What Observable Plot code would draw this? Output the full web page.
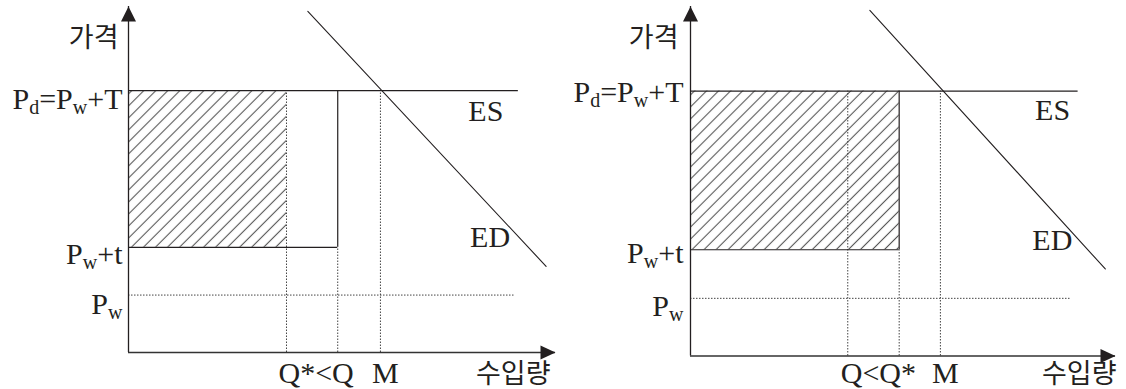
<!DOCTYPE html>
<html>
<head>
<meta charset="utf-8">
<script src="https://cdn.jsdelivr.net/npm/d3@7"></script>
<script src="https://cdn.jsdelivr.net/npm/@observablehq/plot@0.6"></script>
<style>
  body { margin: 0; background: #fff; }
  #wrap { display: flex; width: 1126px; height: 389px; background: #fff; }
  #wrap svg { flex: none; max-width: none; }
</style>
</head>
<body>
<svg width="0" height="0" style="position:absolute">
  <defs>
    <pattern id="hatch" patternUnits="userSpaceOnUse" width="8.5" height="8.5" patternTransform="rotate(45)">
      <line x1="4.25" y1="0" x2="4.25" y2="8.5" stroke="#555" stroke-width="1.1"/>
    </pattern>
  </defs>
</svg>
<div id="wrap"></div>
<script>
// ---------- data (chart units: both axes 0..100) ----------
const axisTitles = ["가격", "수입량"];
const priceLabels = ["P_d=P_w+T", "P_w+t", "P_w"];
const curveLabels = ["ES", "ED"];
const quantityLabels = [["Q*<Q", "M"], ["Q<Q*", "M"]];

const quotaQ   = [49.0, 37.0];   // Q (quota) in each panel
const optimalQ = [37.0, 49.1];   // Q* in each panel
const importM  = [59.0, 58.8];   // M
const priceD   = [75.7, 75.8];   // Pd = Pw + T
const priceWt  = [30.4, 30.4];   // Pw + t
const priceW   = [16.6, 16.5];   // Pw
const esEnd    = [91.3, 91.2];   // ES line right end
const pwEnd    = [90.4, 89.6];   // Pw dotted line right end
const edX = [[42.0, 97.8], [42.2, 97.6]];
const edY = [[98.6, 24.9], [98.9, 24.9]];
const axisMax = 100;

// ---------- layout / style ----------
const W = 563, H = 389;
const INK = "#231f20";
const layouts = [
  {marginLeft: 128, marginRight: 8, marginTop: 6, marginBottom: 37,
   priceDy: [18, 17, 19], priceDx: -6, qDx: -8, qDy: 30, mDx: 5, impDx: -5, impDy: 30,
   esDx: -15, esDy: 30, edDx: -36, edDy: -19, titleDx: -10, titleDy: 40},
  {marginLeft: 127, marginRight: 11, marginTop: 6, marginBottom: 33.5,
   priceDy: [11, 13, 18], priceDx: -7, qDx: -7, qDy: 27, mDx: 5, impDx: 1, impDy: 27,
   esDx: -8, esDy: 29, edDx: -33, edDy: -19, titleDx: -12, titleDy: 40}
];

const serif = {fontFamily: "'Liberation Serif', 'Times New Roman', serif", fontSize: 30, fill: INK, lineAnchor: "bottom"};
const hangul = {fontFamily: "'Noto Sans CJK KR', sans-serif", fontSize: 27, fontWeight: 400, fill: INK, lineAnchor: "bottom"};
const dotted = {stroke: "#444", strokeWidth: 1, strokeDasharray: "1.5 1.5"};
const solid = {stroke: INK, strokeWidth: 1.2};

const arrowUp = {draw(ctx) { ctx.moveTo(0, 0); ctx.lineTo(7.5, 15); ctx.lineTo(-7.5, 15); ctx.closePath(); }};
const arrowRight = {draw(ctx) { ctx.moveTo(0, 0); ctx.lineTo(-15, 7); ctx.lineTo(-15, -7); ctx.closePath(); }};

function subscriptify(svg) {
  d3.select(svg).selectAll("text").each(function() {
    const s = this.textContent;
    if (!s.includes("_")) return;
    this.textContent = "";
    const parts = s.split(/(_\w)/).filter(p => p.length);
    let shifted = false;
    for (const p of parts) {
      const ts = document.createElementNS("http://www.w3.org/2000/svg", "tspan");
      if (p.startsWith("_")) {
        ts.textContent = p.slice(1);
        ts.setAttribute("font-size", "20");
        ts.setAttribute("dy", "5");
        shifted = true;
      } else {
        ts.textContent = p;
        if (shifted) { ts.setAttribute("dy", "-5"); shifted = false; }
      }
      this.appendChild(ts);
    }
  });
}

function panel(i) {
  const L = layouts[i];
  const lowQ = Math.min(quotaQ[i], optimalQ[i]);
  const highQ = Math.max(quotaQ[i], optimalQ[i]);
  const prices = [priceD[i], priceWt[i], priceW[i]];
  const ed = edX[i].map((x, k) => ({x, y: edY[i][k]}));
  const edEnd = ed[ed.length - 1];

  const marks = [
    // hatched area
    Plot.rect([0], {x1: 0, x2: optimalQ[i], y1: priceWt[i], y2: priceD[i], fill: "url(#hatch)"}),
    // dotted guides
    Plot.ruleX([lowQ, importM[i]], {y1: 0, y2: priceD[i], ...dotted}),
    Plot.ruleX([highQ], {y1: 0, y2: priceWt[i], ...dotted}),
    Plot.ruleY([priceW[i]], {x1: 0, x2: pwEnd[i], ...dotted}),
    // solid lines
    Plot.ruleY([priceD[i]], {x1: 0, x2: esEnd[i], ...solid}),
    Plot.ruleY([priceWt[i]], {x1: 0, x2: highQ, ...solid}),
    Plot.ruleX([highQ], {y1: priceWt[i], y2: priceD[i], ...solid}),
    Plot.line(ed, {x: "x", y: "y", stroke: INK, strokeWidth: 1.1}),
    // axes
    Plot.ruleX([0], {y1: 0, y2: axisMax, stroke: INK, strokeWidth: 1.3}),
    Plot.ruleY([0], {x1: 0, x2: axisMax, stroke: "#333", strokeWidth: 1.5}),
    Plot.dot([0], {x: 0, y: axisMax, symbol: arrowUp, fill: INK}),
    Plot.dot([0], {x: axisMax, y: 0, symbol: arrowRight, fill: INK}),
    // axis titles
    Plot.text([axisTitles[0]], {x: 0, y: axisMax, text: d => d, textAnchor: "end", dx: L.titleDx, dy: L.titleDy, ...hangul}),
    Plot.text([axisTitles[1]], {x: axisMax, y: 0, text: d => d, textAnchor: "end", dx: L.impDx, dy: L.impDy, ...hangul}),
    // quantity labels
    Plot.text([quantityLabels[i][0]], {x: lowQ, y: 0, text: d => d, textAnchor: "start", dx: L.qDx, dy: L.qDy, ...serif}),
    Plot.text([quantityLabels[i][1]], {x: importM[i], y: 0, text: d => d, textAnchor: "middle", dx: L.mDx, dy: L.qDy, ...serif}),
    // curve labels
    Plot.text([curveLabels[0]], {x: esEnd[i], y: priceD[i], text: d => d, textAnchor: "end", dx: L.esDx, dy: L.esDy, ...serif}),
    Plot.text([curveLabels[1]], {x: edEnd.x, y: edEnd.y, text: d => d, textAnchor: "end", dx: L.edDx, dy: L.edDy, ...serif})
  ];
  // price labels
  priceLabels.forEach((t, j) => {
    marks.push(Plot.text([t], {x: 0, y: prices[j], text: d => d, textAnchor: "end", dx: L.priceDx, dy: L.priceDy[j], ...serif}));
  });

  const svg = Plot.plot({
    width: W, height: H,
    marginLeft: L.marginLeft, marginRight: L.marginRight, marginTop: L.marginTop, marginBottom: L.marginBottom,
    x: {domain: [0, axisMax], axis: null},
    y: {domain: [0, axisMax], axis: null},
    style: {background: "#fff", overflow: "visible"},
    marks
  });
  subscriptify(svg);
  return svg;
}

const wrap = document.getElementById("wrap");
wrap.appendChild(panel(0));
wrap.appendChild(panel(1));
</script>
</body>
</html>
